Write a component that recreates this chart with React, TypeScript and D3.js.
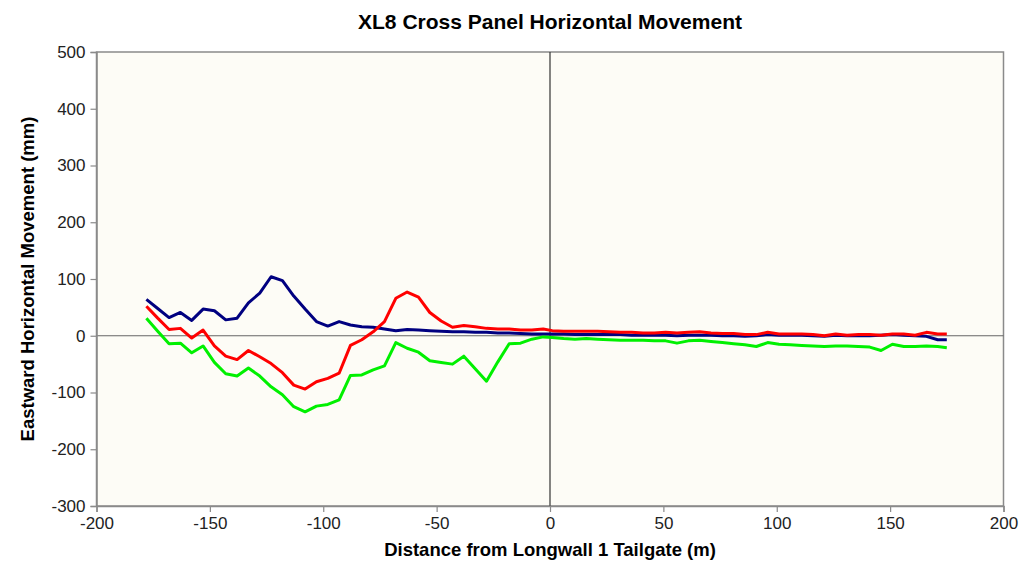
import * as d3 from "d3";
import React, { useRef, useEffect } from "react";

// distance from tailgate (m)
const distance = [
  -178, -173, -168, -163, -158, -153, -148, -143, -138, -133, -128, -123,
  -118, -113, -108, -103, -98, -93, -88, -83, -78, -73, -68, -63, -58, -53,
  -48, -43, -38, -33, -28, -23, -18, -13, -8, -3, 1, 6, 11, 16, 21, 26, 31,
  36, 41, 46, 51, 56, 61, 66, 71, 76, 81, 86, 91, 96, 101, 106, 111, 116,
  121, 126, 131, 136, 141, 146, 151, 156, 161, 166, 171, 175,
];

// eastward horizontal movement (mm)
const blueSeries = [
  64, 48, 32, 41, 27, 47, 44, 28, 31, 58, 75, 104, 97, 70, 47, 25, 17, 25,
  19, 16, 15, 12, 9, 11, 10, 9, 8, 7, 7, 6, 6, 5, 5, 4, 3, 3, 3, 3, 2, 2, 2,
  2, 2, 1, 1, 1, 1, 0, 1, 1, 1, 0, 0, -1, 0, 2, 1, 1, 1, 0, -1, 1, 0, 0, 0,
  1, 2, 1, 0, -1, -7, -7,
];

const redSeries = [
  52, 31, 11, 13, -4, 10, -18, -36, -42, -26, -37, -49, -65, -87, -94, -81,
  -75, -66, -17, -7, 7, 25, 66, 77, 68, 41, 26, 15, 18, 16, 13, 12, 12, 10,
  10, 12, 9, 8, 8, 8, 8, 7, 6, 6, 5, 5, 6, 5, 6, 7, 5, 4, 4, 2, 2, 6, 3, 3,
  3, 2, 0, 3, 1, 2, 2, 1, 3, 3, 1, 6, 3, 3,
];

const greenSeries = [
  31, 8, -14, -13, -30, -18, -47, -67, -71, -57, -71, -90, -104, -125, -134,
  -124, -121, -113, -70, -69, -60, -53, -12, -22, -29, -44, -47, -50, -36,
  -58, -80, -46, -14, -13, -6, -2, -3, -5, -6, -5, -6, -7, -8, -8, -8, -9,
  -9, -13, -9, -8, -10, -12, -14, -16, -19, -12, -15, -16, -17, -18, -19,
  -18, -18, -19, -20, -26, -15, -19, -19, -18, -19, -21,
];

const xTicks = [-200, -150, -100, -50, 0, 50, 100, 150, 200];
const yTicks = [-300, -200, -100, 0, 100, 200, 300, 400, 500];

const series = [
  { name: "blue", values: blueSeries, color: "#000080" },
  { name: "red", values: redSeries, color: "#ff0000" },
  { name: "green", values: greenSeries, color: "#00f000" },
];

function HorizontalMovementChart() {
  const ref = useRef<SVGSVGElement>(null);

  useEffect(() => {
    const svg = d3.select(ref.current);
    svg.selectAll("*").remove();
    draw();
  }, []);

  const draw = () => {
    const width = 1021,
      height = 562;
    const margin = { top: 52, right: 17.5, bottom: 56, left: 96.5 };
    const font = "Liberation Sans, Arial, sans-serif";

    const svg = d3
      .select(ref.current)
      .attr("width", width)
      .attr("height", height);

    const x = d3
      .scaleLinear()
      .domain([-200, 200])
      .range([margin.left, width - margin.right]);
    const y = d3
      .scaleLinear()
      .domain([-300, 500])
      .range([height - margin.bottom, margin.top]);

    svg
      .append("rect")
      .attr("x", x(-200))
      .attr("y", y(500))
      .attr("width", x(200) - x(-200))
      .attr("height", y(-300) - y(500))
      .attr("fill", "#fdfcf6")
      .attr("stroke", "#8a8a8a")
      .attr("stroke-width", 1.5);

    // zero lines
    svg
      .append("line")
      .attr("x1", x(-200))
      .attr("x2", x(200))
      .attr("y1", y(0))
      .attr("y2", y(0))
      .attr("stroke", "#666")
      .attr("stroke-width", 1.2);
    svg
      .append("line")
      .attr("x1", x(0))
      .attr("x2", x(0))
      .attr("y1", y(500))
      .attr("y2", y(-300))
      .attr("stroke", "#333")
      .attr("stroke-width", 1.2);

    // axes (plain hyphen minus, like the original)
    const fmt = (d: d3.NumberValue) => String(d);
    const xAxis = svg
      .append("g")
      .attr("transform", "translate(0," + y(-300) + ")")
      .call(
        d3.axisBottom(x).tickValues(xTicks).tickFormat(fmt).tickSize(6).tickPadding(5)
      );
    const yAxis = svg
      .append("g")
      .attr("transform", "translate(" + x(-200) + ",0)")
      .call(
        d3.axisLeft(y).tickValues(yTicks).tickFormat(fmt).tickSize(6).tickPadding(5)
      );

    [xAxis, yAxis].forEach((g) => {
      g.select(".domain").attr("stroke", "#8a8a8a").attr("stroke-width", 1.5);
      g.selectAll(".tick line").attr("stroke", "#8a8a8a").attr("stroke-width", 1.2);
      g.selectAll(".tick text")
        .attr("fill", "#222")
        .style("font-family", font)
        .style("font-size", "17px");
    });

    const line = d3
      .line<number>()
      .x((d, i) => x(distance[i]))
      .y((d) => y(d));

    svg
      .selectAll("path.series")
      .data(series)
      .enter()
      .append("path")
      .attr("class", "series")
      .attr("fill", "none")
      .attr("stroke", (d) => d.color)
      .attr("stroke-width", 3)
      .attr("stroke-linejoin", "round")
      .attr("d", (d) => line(d.values));

    svg
      .append("text")
      .attr("x", x(0))
      .attr("y", 29)
      .attr("text-anchor", "middle")
      .style("font-family", font)
      .style("font-weight", "bold")
      .style("font-size", "21px")
      .text("XL8 Cross Panel Horizontal Movement");

    svg
      .append("text")
      .attr("x", x(0))
      .attr("y", 556)
      .attr("text-anchor", "middle")
      .style("font-family", font)
      .style("font-weight", "bold")
      .style("font-size", "18.5px")
      .text("Distance from Longwall 1 Tailgate (m)");

    svg
      .append("text")
      .attr("transform", "translate(34," + y(100) + ") rotate(-90)")
      .attr("text-anchor", "middle")
      .style("font-family", font)
      .style("font-weight", "bold")
      .style("font-size", "18.5px")
      .text("Eastward Horizontal Movement (mm)");
  };

  return (
    <div style={{ position: "absolute", left: 0, top: 0 }}>
      <svg ref={ref}></svg>
    </div>
  );
}

export default function App() {
  return <HorizontalMovementChart />;
}
